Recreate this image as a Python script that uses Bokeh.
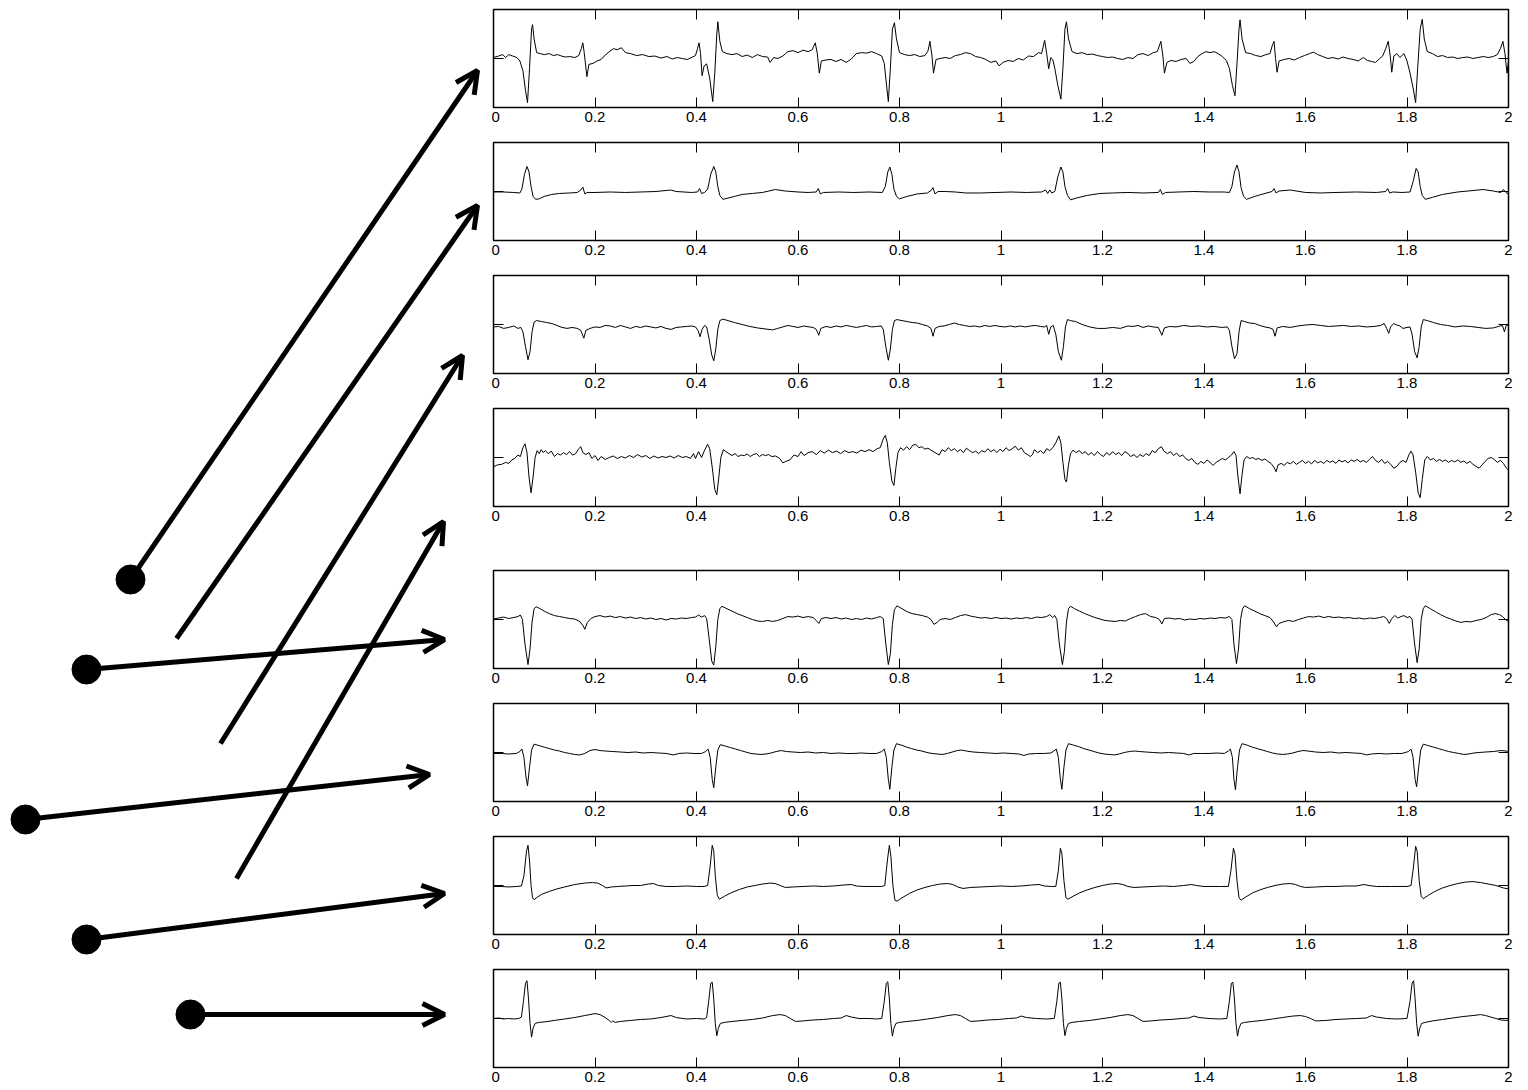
from bokeh.plotting import figure
from bokeh.layouts import row, column
from bokeh.models import (Range1d, LinearAxis, FixedTicker, Arrow, OpenHead, ColumnDataSource,
                          CustomLabelingPolicy)
from bokeh.embed import file_html
from bokeh.resources import INLINE

# ---------------- data ----------------
x_ticks = [0, 0.2, 0.4, 0.6, 0.8, 1, 1.2, 1.4, 1.6, 1.8, 2]
x_tick_labels = ["0", "0.2", "0.4", "0.6", "0.8", "1", "1.2", "1.4", "1.6", "1.8", "2"]

# left drawing: dots and arrows (page pixel coordinates)
dot_x = [130, 86, 25, 86, 190]
dot_y = [579, 669, 819, 939, 1014]
arrow_x0 = [130, 176, 220, 236, 86, 25, 86, 190]
arrow_y0 = [579, 638, 743, 878, 669, 819, 939, 1014]
arrow_x1 = [477, 477, 462, 443, 444, 429, 444, 444]
arrow_y1 = [70, 205, 355, 521, 639, 774, 893, 1014]

ecg1 = [(0.000, 0.02), (0.010, 0.05), (0.018, 0.08), (0.024, 0.02), (0.030, 0.08), (0.038, 0.05), (0.046, 0.02),
        (0.052, -0.05), (0.058, -0.25), (0.063, -0.65), (0.067, -0.90), (0.071, -0.20), (0.075, 0.60), (0.077, 0.69),
        (0.080, 0.40), (0.085, 0.12), (0.092, 0.10), (0.100, 0.08), (0.110, 0.10), (0.118, 0.06), (0.126, 0.08),
        (0.134, 0.05), (0.142, 0.03), (0.150, 0.04), (0.160, 0.02), (0.168, 0.06), (0.173, 0.20), (0.176, 0.32),
        (0.179, 0.10), (0.184, -0.37), (0.188, -0.12), (0.196, -0.10), (0.204, -0.05), (0.212, -0.02), (0.218, 0.05),
        (0.226, 0.12), (0.236, 0.20), (0.244, 0.18), (0.252, 0.22), (0.260, 0.12), (0.270, 0.10), (0.282, 0.06),
        (0.294, 0.08), (0.306, 0.04), (0.318, 0.05), (0.330, 0.01), (0.342, 0.04), (0.352, -0.01), (0.362, 0.02),
        (0.372, 0.00), (0.382, -0.02), (0.392, 0.03), (0.398, 0.06), (0.402, 0.20), (0.405, 0.32), (0.408, 0.10),
        (0.411, -0.35), (0.415, -0.15), (0.420, -0.11), (0.426, -0.40), (0.432, -0.88), (0.436, -0.30), (0.440, 0.50),
        (0.442, 0.75), (0.446, 0.35), (0.451, 0.14), (0.460, 0.10), (0.470, 0.08), (0.480, 0.10), (0.490, 0.04),
        (0.500, 0.07), (0.510, 0.02), (0.520, 0.08), (0.530, 0.04), (0.540, 0.03), (0.545, -0.08), (0.552, 0.02),
        (0.560, 0.00), (0.570, 0.05), (0.580, 0.14), (0.590, 0.16), (0.600, 0.12), (0.610, 0.17), (0.620, 0.14),
        (0.628, 0.18), (0.634, 0.32), (0.638, 0.10), (0.642, -0.30), (0.646, -0.05), (0.655, -0.03), (0.665, -0.02),
        (0.675, -0.06), (0.685, -0.02), (0.695, -0.08), (0.705, -0.01), (0.715, 0.10), (0.725, 0.12), (0.735, 0.11),
        (0.745, 0.14), (0.755, 0.10), (0.765, 0.05), (0.770, -0.10), (0.774, -0.50), (0.778, -0.88), (0.782, -0.20),
        (0.786, 0.60), (0.790, 0.73), (0.794, 0.40), (0.800, 0.12), (0.810, 0.08), (0.820, 0.06), (0.830, 0.08),
        (0.840, 0.04), (0.850, 0.06), (0.856, 0.15), (0.860, 0.35), (0.864, 0.05), (0.867, -0.30), (0.872, -0.02),
        (0.880, 0.00), (0.890, 0.02), (0.900, 0.00), (0.910, 0.06), (0.920, 0.08), (0.930, 0.12), (0.940, 0.10),
        (0.950, 0.04), (0.960, 0.02), (0.970, -0.02), (0.980, -0.08), (0.990, -0.05), (0.996, -0.15), (1.004, -0.08),
        (1.014, -0.04), (1.024, -0.06), (1.034, 0.00), (1.044, -0.03), (1.054, 0.05), (1.064, 0.04), (1.074, 0.12),
        (1.080, 0.10), (1.086, 0.37), (1.090, 0.10), (1.094, -0.21), (1.098, 0.02), (1.102, -0.02), (1.106, -0.20),
        (1.112, -0.55), (1.118, -0.83), (1.122, -0.20), (1.126, 0.60), (1.129, 0.75), (1.133, 0.40), (1.140, 0.14),
        (1.150, 0.10), (1.160, 0.12), (1.170, 0.08), (1.180, 0.09), (1.190, 0.06), (1.200, 0.04), (1.210, 0.02),
        (1.220, 0.03), (1.230, 0.00), (1.240, -0.02), (1.250, 0.02), (1.260, 0.00), (1.270, 0.08), (1.280, 0.10),
        (1.290, 0.06), (1.300, 0.12), (1.308, 0.14), (1.315, 0.35), (1.319, 0.05), (1.322, -0.30), (1.327, -0.08),
        (1.335, -0.04), (1.345, -0.06), (1.355, -0.02), (1.365, 0.00), (1.372, -0.10), (1.380, -0.06), (1.388, 0.04),
        (1.396, 0.10), (1.404, 0.14), (1.412, 0.12), (1.420, 0.14), (1.428, 0.10), (1.436, 0.04), (1.444, -0.04),
        (1.450, -0.20), (1.456, -0.55), (1.461, -0.76), (1.465, -0.10), (1.469, 0.60), (1.471, 0.79), (1.475, 0.40),
        (1.482, 0.12), (1.492, 0.10), (1.502, 0.06), (1.512, 0.04), (1.522, 0.08), (1.530, 0.10), (1.535, 0.28),
        (1.538, 0.35), (1.541, 0.00), (1.544, -0.28), (1.548, -0.05), (1.558, -0.02), (1.568, 0.00), (1.578, -0.03),
        (1.588, 0.02), (1.598, 0.06), (1.608, 0.10), (1.616, 0.13), (1.624, 0.08), (1.634, 0.04), (1.644, 0.00),
        (1.654, 0.02), (1.664, -0.01), (1.674, 0.03), (1.684, 0.00), (1.694, -0.02), (1.704, -0.05), (1.714, 0.02),
        (1.722, -0.04), (1.730, -0.06), (1.738, -0.08), (1.746, 0.00), (1.752, 0.05), (1.758, 0.20), (1.763, 0.35),
        (1.767, 0.05), (1.770, -0.28), (1.774, 0.05), (1.780, 0.10), (1.786, 0.02), (1.794, 0.10), (1.800, -0.05),
        (1.806, -0.30), (1.812, -0.60), (1.817, -0.90), (1.821, -0.20), (1.826, 0.60), (1.830, 0.80), (1.834, 0.40),
        (1.840, 0.14), (1.850, 0.10), (1.860, 0.04), (1.870, 0.06), (1.880, 0.02), (1.890, 0.03), (1.900, 0.00),
        (1.910, 0.02), (1.920, 0.03), (1.930, 0.00), (1.940, 0.02), (1.950, 0.04), (1.960, 0.02), (1.970, 0.04),
        (1.978, 0.08), (1.984, 0.20), (1.989, 0.35), (1.993, 0.10), (1.997, -0.30), (2.000, -0.05)]

ecg2 = [(0.000, -0.01), (0.020, -0.01), (0.040, -0.02), (0.052, -0.03), (0.056, 0.05), (0.061, 0.35), (0.066, 0.51),
        (0.070, 0.40), (0.074, 0.10), (0.078, -0.10), (0.083, -0.16), (0.090, -0.15), (0.100, -0.10), (0.115, -0.06),
        (0.130, -0.04), (0.150, -0.03), (0.165, -0.02), (0.172, 0.03), (0.176, 0.09), (0.180, -0.05), (0.184, -0.02),
        (0.200, -0.02), (0.230, -0.01), (0.260, -0.02), (0.290, -0.01), (0.320, 0.00), (0.349, 0.03), (0.360, 0.00),
        (0.390, -0.02), (0.402, -0.01), (0.406, 0.06), (0.410, -0.04), (0.416, -0.02), (0.422, 0.05), (0.428, 0.35),
        (0.434, 0.51), (0.438, 0.40), (0.442, 0.10), (0.446, -0.08), (0.452, -0.16), (0.460, -0.14), (0.475, -0.10),
        (0.490, -0.06), (0.510, -0.04), (0.530, -0.02), (0.555, 0.04), (0.575, 0.01), (0.600, -0.01), (0.620, -0.02),
        (0.636, -0.01), (0.640, 0.06), (0.644, -0.05), (0.650, -0.02), (0.680, -0.01), (0.710, -0.02), (0.740, -0.01),
        (0.766, -0.02), (0.772, 0.10), (0.777, 0.40), (0.781, 0.50), (0.785, 0.35), (0.789, 0.05), (0.794, -0.10),
        (0.800, -0.15), (0.815, -0.10), (0.835, -0.05), (0.855, -0.03), (0.862, 0.02), (0.866, 0.08), (0.870, -0.05),
        (0.876, 0.00), (0.890, 0.00), (0.910, -0.01), (0.930, -0.03), (0.960, -0.03), (0.990, -0.02), (1.020, -0.01),
        (1.050, -0.02), (1.080, -0.01), (1.088, 0.03), (1.092, -0.04), (1.096, 0.03), (1.100, -0.03), (1.106, 0.00),
        (1.112, 0.30), (1.118, 0.50), (1.122, 0.40), (1.126, 0.10), (1.131, -0.08), (1.137, -0.17), (1.150, -0.13),
        (1.170, -0.08), (1.195, -0.04), (1.220, -0.03), (1.250, -0.02), (1.280, -0.03), (1.310, -0.02), (1.314, 0.04),
        (1.318, -0.06), (1.324, -0.02), (1.350, -0.01), (1.380, 0.00), (1.410, -0.01), (1.440, -0.01), (1.450, -0.02),
        (1.455, 0.10), (1.460, 0.40), (1.465, 0.54), (1.469, 0.40), (1.473, 0.08), (1.478, -0.10), (1.484, -0.16),
        (1.500, -0.10), (1.520, -0.04), (1.534, 0.00), (1.538, 0.06), (1.542, -0.03), (1.548, 0.01), (1.570, 0.03),
        (1.600, -0.02), (1.630, -0.03), (1.660, -0.02), (1.700, -0.01), (1.740, -0.02), (1.758, 0.00), (1.762, 0.06),
        (1.766, -0.03), (1.772, -0.01), (1.790, -0.02), (1.806, -0.01), (1.812, 0.20), (1.818, 0.47), (1.822, 0.40),
        (1.826, 0.10), (1.830, -0.08), (1.836, -0.16), (1.850, -0.12), (1.870, -0.06), (1.900, -0.01), (1.930, 0.02),
        (1.950, 0.04), (1.970, 0.01), (1.985, -0.02), (1.990, 0.04), (1.995, -0.02), (2.000, -0.05)]

ecg3 = [(0.000, -0.05), (0.010, -0.04), (0.020, -0.08), (0.030, -0.06), (0.040, -0.03), (0.048, -0.08), (0.054, -0.06),
        (0.058, -0.15), (0.063, -0.45), (0.068, -0.72), (0.072, -0.55), (0.076, -0.15), (0.080, 0.05), (0.085, 0.08),
        (0.095, 0.06), (0.105, 0.04), (0.115, 0.02), (0.125, -0.02), (0.135, -0.06), (0.145, -0.08), (0.155, -0.06),
        (0.165, -0.08), (0.172, -0.12), (0.178, -0.28), (0.182, -0.12), (0.190, -0.08), (0.200, -0.05), (0.210, -0.06),
        (0.220, -0.02), (0.230, -0.03), (0.240, -0.06), (0.250, -0.02), (0.260, -0.05), (0.270, -0.08), (0.280, -0.04),
        (0.290, -0.06), (0.300, -0.03), (0.310, -0.05), (0.320, -0.07), (0.330, -0.04), (0.340, -0.08), (0.350, -0.10),
        (0.360, -0.06), (0.370, -0.05), (0.380, -0.04), (0.390, -0.03), (0.398, -0.05), (0.403, -0.12), (0.407, -0.25),
        (0.411, -0.10), (0.416, -0.02), (0.420, -0.05), (0.425, -0.30), (0.430, -0.62), (0.434, -0.74), (0.438, -0.50),
        (0.442, -0.10), (0.446, 0.08), (0.452, 0.11), (0.462, 0.08), (0.475, 0.04), (0.490, 0.00), (0.505, -0.04),
        (0.520, -0.07), (0.535, -0.09), (0.550, -0.11), (0.560, -0.08), (0.570, -0.05), (0.580, -0.02), (0.590, -0.04),
        (0.600, -0.06), (0.612, -0.03), (0.622, -0.05), (0.630, -0.06), (0.636, -0.10), (0.641, -0.22), (0.645, -0.08),
        (0.655, -0.04), (0.665, -0.06), (0.675, -0.03), (0.685, -0.05), (0.695, -0.02), (0.705, -0.04), (0.715, -0.06),
        (0.725, -0.04), (0.735, -0.02), (0.745, -0.05), (0.755, -0.04), (0.764, -0.03), (0.768, -0.10), (0.773, -0.45),
        (0.778, -0.73), (0.782, -0.50), (0.786, -0.10), (0.790, 0.08), (0.795, 0.10), (0.805, 0.08), (0.815, 0.06),
        (0.825, 0.04), (0.835, 0.03), (0.845, 0.00), (0.855, -0.03), (0.862, -0.08), (0.866, -0.24), (0.870, -0.08),
        (0.878, -0.04), (0.888, -0.03), (0.898, 0.00), (0.908, 0.03), (0.918, 0.00), (0.928, -0.02), (0.938, -0.04),
        (0.948, -0.03), (0.958, -0.05), (0.968, -0.02), (0.978, -0.04), (0.988, -0.02), (0.998, -0.04), (1.008, -0.05),
        (1.018, -0.03), (1.028, -0.05), (1.038, -0.03), (1.048, -0.05), (1.058, -0.03), (1.068, -0.02), (1.078, -0.04),
        (1.086, -0.05), (1.090, -0.02), (1.094, -0.20), (1.098, -0.05), (1.103, -0.02), (1.108, -0.20), (1.113, -0.55),
        (1.119, -0.73), (1.123, -0.45), (1.127, -0.05), (1.131, 0.10), (1.137, 0.08), (1.147, 0.06), (1.160, 0.00),
        (1.175, -0.05), (1.190, -0.08), (1.205, -0.08), (1.220, -0.06), (1.235, -0.08), (1.250, -0.03), (1.260, -0.04),
        (1.270, -0.02), (1.280, -0.06), (1.290, -0.03), (1.300, -0.05), (1.310, -0.06), (1.317, -0.22), (1.322, -0.07),
        (1.332, -0.04), (1.345, -0.05), (1.360, -0.02), (1.375, -0.04), (1.390, -0.03), (1.405, -0.05), (1.420, -0.04),
        (1.435, -0.06), (1.446, -0.05), (1.450, -0.12), (1.455, -0.45), (1.460, -0.70), (1.465, -0.60), (1.469, -0.15),
        (1.473, 0.08), (1.480, 0.06), (1.490, 0.03), (1.500, 0.02), (1.510, -0.02), (1.520, -0.05), (1.530, -0.07),
        (1.536, -0.10), (1.540, -0.24), (1.544, -0.07), (1.555, -0.04), (1.570, -0.06), (1.585, -0.03), (1.600, -0.01),
        (1.615, 0.00), (1.630, -0.02), (1.645, -0.04), (1.660, -0.03), (1.675, -0.02), (1.690, -0.04), (1.705, -0.03),
        (1.720, -0.05), (1.735, -0.04), (1.748, -0.02), (1.755, 0.02), (1.760, -0.08), (1.764, -0.18), (1.768, -0.04),
        (1.774, 0.02), (1.780, -0.01), (1.786, -0.03), (1.792, -0.08), (1.800, -0.06), (1.806, -0.05), (1.810, -0.20),
        (1.815, -0.55), (1.820, -0.68), (1.824, -0.45), (1.828, -0.05), (1.832, 0.10), (1.840, 0.08), (1.852, 0.04),
        (1.866, 0.00), (1.880, -0.02), (1.895, -0.05), (1.910, -0.03), (1.925, -0.04), (1.940, -0.06), (1.955, -0.08),
        (1.970, -0.07), (1.980, -0.04), (1.988, -0.02), (1.992, -0.15), (1.996, 0.00), (2.000, -0.03)]

ecg4 = [(0.000, -0.19), (0.008, -0.15), (0.016, -0.14), (0.024, -0.10), (0.030, -0.12), (0.036, -0.05), (0.042, -0.02),
        (0.048, 0.05), (0.053, 0.02), (0.058, 0.20), (0.062, 0.28), (0.066, 0.10), (0.070, -0.40), (0.074, -0.72),
        (0.078, -0.40), (0.082, 0.00), (0.086, 0.14), (0.090, 0.08), (0.094, 0.16), (0.098, 0.10), (0.102, 0.14),
        (0.108, 0.08), (0.114, 0.13), (0.120, 0.02), (0.126, 0.08), (0.132, 0.05), (0.138, 0.10), (0.144, 0.06),
        (0.150, 0.12), (0.156, 0.05), (0.162, 0.08), (0.168, 0.18), (0.172, 0.22), (0.176, 0.10), (0.182, 0.06),
        (0.188, 0.10), (0.194, -0.02), (0.200, 0.04), (0.206, -0.06), (0.212, 0.02), (0.220, -0.04), (0.228, 0.00),
        (0.236, 0.03), (0.244, -0.02), (0.252, 0.02), (0.260, -0.01), (0.268, 0.04), (0.276, 0.00), (0.284, 0.06),
        (0.292, 0.01), (0.300, 0.04), (0.308, -0.02), (0.316, 0.03), (0.324, -0.01), (0.332, 0.02), (0.340, 0.00),
        (0.348, 0.03), (0.356, -0.01), (0.364, 0.04), (0.372, 0.00), (0.380, 0.02), (0.388, -0.02), (0.394, 0.08),
        (0.398, -0.02), (0.404, 0.12), (0.410, 0.00), (0.416, 0.15), (0.422, 0.27), (0.426, 0.18), (0.431, -0.20),
        (0.436, -0.65), (0.440, -0.76), (0.444, -0.40), (0.448, 0.00), (0.453, 0.16), (0.458, 0.12), (0.464, 0.08),
        (0.470, 0.04), (0.476, 0.08), (0.482, 0.02), (0.488, 0.05), (0.494, 0.04), (0.500, 0.07), (0.506, 0.02),
        (0.512, 0.06), (0.518, 0.08), (0.524, 0.02), (0.530, 0.06), (0.536, 0.04), (0.542, 0.06), (0.548, 0.02),
        (0.556, 0.03), (0.564, -0.02), (0.570, -0.11), (0.576, -0.08), (0.584, -0.05), (0.592, 0.05), (0.600, 0.02),
        (0.606, 0.12), (0.612, 0.04), (0.620, 0.10), (0.628, 0.12), (0.636, 0.06), (0.644, 0.14), (0.652, 0.09),
        (0.660, 0.15), (0.668, 0.10), (0.676, 0.13), (0.684, 0.08), (0.692, 0.14), (0.700, 0.10), (0.708, 0.12),
        (0.716, 0.09), (0.724, 0.15), (0.732, 0.12), (0.740, 0.16), (0.748, 0.12), (0.756, 0.18), (0.762, 0.20),
        (0.768, 0.38), (0.772, 0.45), (0.776, 0.30), (0.780, -0.10), (0.785, -0.48), (0.789, -0.57), (0.793, -0.20),
        (0.797, 0.10), (0.802, 0.20), (0.808, 0.15), (0.814, 0.22), (0.820, 0.16), (0.826, 0.25), (0.832, 0.27),
        (0.838, 0.20), (0.844, 0.22), (0.850, 0.17), (0.856, 0.19), (0.862, 0.15), (0.870, 0.10), (0.878, 0.05),
        (0.884, 0.16), (0.890, 0.12), (0.896, 0.20), (0.902, 0.14), (0.908, 0.18), (0.914, 0.12), (0.920, 0.16),
        (0.926, 0.10), (0.932, 0.19), (0.938, 0.14), (0.944, 0.10), (0.950, 0.13), (0.956, 0.08), (0.962, 0.14),
        (0.968, 0.11), (0.974, 0.18), (0.980, 0.12), (0.986, 0.16), (0.992, 0.10), (0.998, 0.17), (1.004, 0.12),
        (1.010, 0.20), (1.016, 0.14), (1.022, 0.18), (1.028, 0.23), (1.034, 0.15), (1.040, 0.20), (1.046, 0.10),
        (1.052, 0.06), (1.058, 0.02), (1.062, 0.06), (1.066, 0.16), (1.072, 0.10), (1.078, 0.14), (1.084, 0.08),
        (1.090, 0.18), (1.096, 0.14), (1.102, 0.20), (1.108, 0.30), (1.114, 0.44), (1.118, 0.30), (1.122, -0.10),
        (1.126, -0.45), (1.129, -0.50), (1.133, -0.15), (1.137, 0.08), (1.142, 0.15), (1.148, 0.10), (1.154, 0.14),
        (1.160, 0.08), (1.166, 0.12), (1.172, 0.05), (1.178, 0.10), (1.184, 0.04), (1.190, 0.12), (1.196, 0.06),
        (1.202, 0.02), (1.208, 0.10), (1.214, 0.05), (1.220, 0.12), (1.226, 0.06), (1.232, 0.10), (1.238, 0.04),
        (1.244, 0.12), (1.250, 0.08), (1.256, 0.02), (1.262, 0.06), (1.268, 0.00), (1.274, 0.06), (1.280, 0.02),
        (1.286, 0.08), (1.292, 0.04), (1.298, 0.14), (1.304, 0.10), (1.310, 0.18), (1.316, 0.22), (1.322, 0.12),
        (1.328, 0.08), (1.334, 0.12), (1.340, 0.04), (1.346, 0.09), (1.352, 0.02), (1.358, 0.05), (1.364, -0.02),
        (1.370, -0.06), (1.376, -0.02), (1.382, -0.10), (1.388, -0.14), (1.394, -0.08), (1.400, -0.12), (1.406, -0.05),
        (1.412, -0.10), (1.418, -0.16), (1.424, -0.10), (1.430, -0.06), (1.436, -0.02), (1.442, -0.05), (1.448, 0.00),
        (1.454, 0.05), (1.459, 0.12), (1.463, 0.05), (1.467, -0.40), (1.471, -0.74), (1.475, -0.35), (1.479, -0.05),
        (1.484, 0.02), (1.490, -0.02), (1.496, 0.00), (1.502, -0.04), (1.508, -0.02), (1.514, -0.06), (1.520, -0.03),
        (1.526, -0.08), (1.532, -0.12), (1.538, -0.20), (1.542, -0.29), (1.546, -0.15), (1.552, -0.12), (1.558, -0.16),
        (1.564, -0.10), (1.570, -0.13), (1.576, -0.08), (1.582, -0.14), (1.588, -0.10), (1.594, -0.06), (1.600, -0.12),
        (1.606, -0.08), (1.612, -0.13), (1.618, -0.06), (1.624, -0.11), (1.630, -0.08), (1.636, -0.12), (1.642, -0.06),
        (1.648, -0.10), (1.654, -0.07), (1.660, -0.12), (1.666, -0.05), (1.672, -0.09), (1.678, -0.06), (1.684, -0.11),
        (1.690, -0.05), (1.696, -0.08), (1.702, -0.04), (1.708, -0.09), (1.714, -0.06), (1.720, -0.10), (1.726, -0.04),
        (1.732, 0.02), (1.738, -0.06), (1.744, -0.10), (1.750, -0.04), (1.756, -0.12), (1.762, -0.08), (1.768, -0.14),
        (1.774, -0.22), (1.780, -0.18), (1.786, -0.10), (1.792, -0.06), (1.798, -0.10), (1.804, 0.06), (1.808, 0.13),
        (1.812, 0.05), (1.817, -0.30), (1.822, -0.72), (1.826, -0.82), (1.830, -0.45), (1.835, -0.05), (1.840, 0.02),
        (1.846, -0.05), (1.852, -0.02), (1.858, -0.08), (1.864, -0.04), (1.870, -0.08), (1.876, -0.05), (1.882, -0.10),
        (1.888, -0.06), (1.894, -0.09), (1.900, -0.05), (1.906, -0.10), (1.912, -0.07), (1.918, -0.12), (1.924, -0.08),
        (1.930, -0.14), (1.936, -0.18), (1.942, -0.22), (1.948, -0.15), (1.954, -0.08), (1.960, -0.02), (1.966, 0.00),
        (1.972, -0.04), (1.978, -0.10), (1.984, -0.06), (1.990, -0.12), (1.996, -0.22), (2.000, -0.26)]

ecg5 = [(0.000, 0.01), (0.010, 0.03), (0.020, 0.05), (0.030, 0.02), (0.040, 0.04), (0.048, 0.06), (0.053, 0.09),
        (0.057, 0.00), (0.062, -0.50), (0.068, -0.92), (0.072, -0.60), (0.076, -0.05), (0.080, 0.22), (0.084, 0.26),
        (0.092, 0.22), (0.100, 0.17), (0.110, 0.12), (0.120, 0.08), (0.130, 0.06), (0.140, 0.04), (0.150, 0.02),
        (0.160, 0.01), (0.170, -0.04), (0.176, -0.12), (0.180, -0.20), (0.185, -0.06), (0.192, 0.02), (0.200, 0.06),
        (0.210, 0.08), (0.220, 0.05), (0.230, 0.07), (0.240, 0.04), (0.250, 0.06), (0.260, 0.03), (0.270, 0.05),
        (0.280, 0.02), (0.290, 0.04), (0.300, 0.01), (0.310, 0.03), (0.320, 0.00), (0.330, 0.02), (0.340, -0.01),
        (0.350, 0.02), (0.360, 0.01), (0.370, 0.03), (0.380, 0.02), (0.390, 0.04), (0.398, 0.05), (0.404, 0.09),
        (0.410, 0.05), (0.416, 0.08), (0.420, 0.02), (0.425, -0.40), (0.430, -0.85), (0.434, -0.93), (0.438, -0.55),
        (0.442, 0.00), (0.446, 0.22), (0.450, 0.27), (0.460, 0.22), (0.470, 0.17), (0.480, 0.12), (0.490, 0.08),
        (0.500, 0.04), (0.510, 0.00), (0.520, -0.03), (0.530, -0.04), (0.540, -0.02), (0.550, -0.04), (0.560, -0.02),
        (0.570, 0.02), (0.580, 0.06), (0.590, 0.05), (0.600, 0.07), (0.610, 0.04), (0.620, 0.06), (0.630, 0.04),
        (0.636, -0.02), (0.641, -0.08), (0.646, 0.02), (0.655, 0.04), (0.665, 0.02), (0.675, 0.04), (0.685, 0.01),
        (0.695, 0.03), (0.705, 0.00), (0.715, 0.02), (0.725, 0.00), (0.735, 0.03), (0.745, 0.01), (0.755, 0.04),
        (0.762, 0.06), (0.768, 0.02), (0.773, -0.50), (0.778, -0.92), (0.782, -0.70), (0.786, -0.10), (0.790, 0.20),
        (0.795, 0.28), (0.805, 0.22), (0.815, 0.16), (0.825, 0.12), (0.835, 0.10), (0.845, 0.08), (0.855, 0.05),
        (0.862, 0.00), (0.868, -0.10), (0.874, -0.06), (0.880, 0.00), (0.890, 0.02), (0.900, 0.00), (0.910, 0.04),
        (0.920, 0.08), (0.930, 0.10), (0.940, 0.07), (0.950, 0.05), (0.960, 0.03), (0.970, 0.04), (0.980, 0.02),
        (0.990, 0.04), (1.000, 0.02), (1.010, 0.03), (1.020, 0.01), (1.030, 0.03), (1.040, 0.02), (1.050, 0.04),
        (1.060, 0.02), (1.070, 0.05), (1.080, 0.04), (1.090, 0.06), (1.096, 0.10), (1.102, 0.04), (1.106, 0.08),
        (1.110, 0.00), (1.115, -0.50), (1.121, -0.92), (1.125, -0.65), (1.129, -0.05), (1.133, 0.22), (1.137, 0.27),
        (1.145, 0.22), (1.155, 0.17), (1.165, 0.12), (1.175, 0.08), (1.185, 0.04), (1.195, 0.01), (1.205, -0.02),
        (1.215, -0.03), (1.225, -0.04), (1.235, -0.02), (1.245, -0.03), (1.255, 0.02), (1.265, 0.06), (1.275, 0.10),
        (1.285, 0.12), (1.295, 0.06), (1.305, 0.04), (1.312, 0.00), (1.317, -0.09), (1.322, 0.02), (1.332, 0.03),
        (1.342, 0.01), (1.352, 0.02), (1.362, -0.01), (1.372, 0.01), (1.382, 0.00), (1.392, 0.02), (1.402, 0.01),
        (1.412, 0.03), (1.422, 0.02), (1.432, 0.04), (1.442, 0.03), (1.450, 0.06), (1.455, 0.00), (1.459, -0.50),
        (1.464, -0.90), (1.468, -0.60), (1.472, 0.00), (1.476, 0.22), (1.480, 0.28), (1.490, 0.22), (1.500, 0.17),
        (1.510, 0.12), (1.520, 0.08), (1.530, 0.04), (1.537, -0.05), (1.543, -0.15), (1.548, -0.08), (1.556, -0.05),
        (1.566, -0.02), (1.576, -0.04), (1.586, 0.00), (1.596, 0.03), (1.606, 0.06), (1.616, 0.05), (1.626, 0.07),
        (1.636, 0.04), (1.646, 0.06), (1.656, 0.04), (1.666, 0.05), (1.676, 0.03), (1.686, 0.04), (1.696, 0.02),
        (1.706, 0.03), (1.716, 0.01), (1.726, 0.03), (1.736, 0.02), (1.746, 0.04), (1.754, 0.06), (1.760, 0.02),
        (1.765, -0.08), (1.770, 0.02), (1.776, 0.08), (1.782, 0.03), (1.788, 0.06), (1.794, 0.08), (1.800, 0.04),
        (1.806, 0.06), (1.810, 0.00), (1.815, -0.50), (1.820, -0.88), (1.824, -0.60), (1.828, 0.00), (1.832, 0.22),
        (1.836, 0.28), (1.846, 0.22), (1.856, 0.16), (1.866, 0.10), (1.876, 0.05), (1.886, 0.01), (1.896, -0.03),
        (1.906, -0.06), (1.916, -0.04), (1.926, -0.05), (1.936, -0.02), (1.946, 0.00), (1.956, 0.04), (1.966, 0.10),
        (1.974, 0.12), (1.982, 0.10), (1.988, 0.06), (1.994, 0.00), (2.000, -0.04)]

ecg6 = [(0.000, -0.02), (0.015, -0.02), (0.030, -0.03), (0.045, -0.02), (0.052, 0.02), (0.056, 0.07), (0.060, -0.10),
        (0.064, -0.50), (0.067, -0.68), (0.071, -0.30), (0.075, 0.05), (0.080, 0.17), (0.090, 0.14), (0.100, 0.11),
        (0.110, 0.08), (0.120, 0.05), (0.130, 0.03), (0.140, 0.00), (0.150, -0.02), (0.160, -0.04), (0.170, -0.05),
        (0.180, -0.02), (0.190, 0.04), (0.200, 0.06), (0.210, 0.04), (0.220, 0.03), (0.235, 0.02), (0.250, 0.01),
        (0.265, 0.00), (0.280, 0.01), (0.295, -0.01), (0.310, 0.00), (0.325, -0.01), (0.340, -0.02), (0.355, -0.05),
        (0.365, -0.02), (0.380, -0.01), (0.395, -0.02), (0.410, -0.02), (0.418, 0.02), (0.423, 0.07), (0.427, -0.10),
        (0.431, -0.55), (0.434, -0.72), (0.438, -0.30), (0.442, 0.05), (0.447, 0.16), (0.457, 0.13), (0.467, 0.10),
        (0.477, 0.07), (0.487, 0.04), (0.497, 0.01), (0.507, -0.02), (0.517, -0.03), (0.527, -0.04), (0.537, -0.03),
        (0.547, -0.01), (0.557, 0.02), (0.567, 0.04), (0.577, 0.02), (0.590, 0.01), (0.605, 0.00), (0.620, 0.01),
        (0.635, -0.01), (0.650, 0.00), (0.665, -0.02), (0.680, -0.01), (0.695, -0.02), (0.710, -0.02), (0.725, -0.01),
        (0.740, -0.02), (0.755, -0.02), (0.765, 0.02), (0.770, 0.07), (0.774, -0.10), (0.778, -0.55), (0.781, -0.75),
        (0.785, -0.30), (0.789, 0.05), (0.794, 0.18), (0.804, 0.15), (0.814, 0.11), (0.824, 0.08), (0.834, 0.05),
        (0.844, 0.03), (0.854, 0.00), (0.864, -0.02), (0.874, -0.03), (0.884, -0.04), (0.894, -0.02), (0.904, 0.01),
        (0.914, 0.04), (0.922, 0.05), (0.932, 0.03), (0.945, 0.01), (0.960, 0.00), (0.975, -0.01), (0.990, -0.02),
        (1.005, -0.01), (1.020, -0.02), (1.035, -0.03), (1.045, -0.06), (1.055, -0.03), (1.070, -0.02), (1.085, -0.02),
        (1.098, -0.01), (1.104, 0.03), (1.109, 0.07), (1.113, -0.10), (1.117, -0.55), (1.120, -0.75), (1.124, -0.30),
        (1.128, 0.05), (1.133, 0.18), (1.143, 0.15), (1.153, 0.12), (1.163, 0.08), (1.173, 0.05), (1.183, 0.02),
        (1.193, -0.01), (1.203, -0.03), (1.213, -0.04), (1.223, -0.05), (1.233, -0.03), (1.243, 0.00), (1.253, 0.02),
        (1.263, 0.03), (1.273, 0.02), (1.285, 0.01), (1.300, 0.00), (1.315, -0.01), (1.330, 0.00), (1.345, -0.01),
        (1.360, -0.02), (1.370, -0.05), (1.380, -0.02), (1.395, -0.02), (1.410, -0.02), (1.425, -0.01), (1.440, -0.02),
        (1.448, 0.03), (1.452, 0.07), (1.456, -0.10), (1.459, -0.55), (1.462, -0.76), (1.466, -0.30), (1.470, 0.05),
        (1.475, 0.18), (1.485, 0.15), (1.495, 0.11), (1.505, 0.08), (1.515, 0.05), (1.525, 0.02), (1.535, -0.01),
        (1.545, -0.03), (1.555, -0.04), (1.565, -0.03), (1.575, -0.01), (1.585, 0.02), (1.595, 0.04), (1.605, 0.03),
        (1.620, 0.01), (1.635, 0.00), (1.650, 0.01), (1.665, -0.01), (1.680, 0.00), (1.695, -0.01), (1.710, -0.02),
        (1.720, -0.05), (1.730, -0.03), (1.745, -0.02), (1.760, -0.03), (1.775, -0.02), (1.790, -0.02), (1.803, 0.02),
        (1.808, 0.07), (1.812, -0.10), (1.816, -0.55), (1.819, -0.70), (1.823, -0.30), (1.827, 0.05), (1.832, 0.17),
        (1.842, 0.14), (1.852, 0.11), (1.862, 0.08), (1.872, 0.05), (1.882, 0.02), (1.892, 0.00), (1.902, -0.02),
        (1.912, -0.04), (1.922, -0.03), (1.932, -0.01), (1.942, 0.00), (1.955, 0.01), (1.970, 0.02), (1.985, 0.04),
        (1.995, 0.03), (2.000, 0.02)]

ecg7 = [(0.000, -0.02), (0.015, -0.02), (0.030, -0.03), (0.045, -0.02), (0.055, -0.01), (0.060, 0.20), (0.065, 0.70),
        (0.068, 0.82), (0.071, 0.50), (0.074, 0.00), (0.077, -0.25), (0.080, -0.29), (0.086, -0.24), (0.095, -0.18),
        (0.110, -0.12), (0.125, -0.07), (0.140, -0.03), (0.160, 0.02), (0.180, 0.05), (0.195, 0.06), (0.205, 0.05),
        (0.215, 0.00), (0.222, -0.05), (0.232, -0.03), (0.245, -0.02), (0.260, -0.01), (0.275, 0.00), (0.290, 0.00),
        (0.305, 0.03), (0.315, 0.04), (0.325, 0.00), (0.340, -0.02), (0.360, -0.02), (0.380, -0.01), (0.400, -0.02),
        (0.415, -0.02), (0.422, 0.00), (0.427, 0.40), (0.431, 0.82), (0.434, 0.70), (0.437, 0.20), (0.441, -0.20),
        (0.445, -0.28), (0.455, -0.22), (0.470, -0.14), (0.485, -0.08), (0.500, -0.03), (0.515, 0.00), (0.530, 0.03),
        (0.545, 0.05), (0.555, 0.04), (0.565, 0.00), (0.575, -0.04), (0.590, -0.03), (0.610, -0.02), (0.630, -0.01),
        (0.650, -0.02), (0.670, -0.01), (0.690, 0.01), (0.705, 0.02), (0.715, -0.01), (0.730, -0.02), (0.750, -0.02),
        (0.765, -0.02), (0.771, 0.00), (0.776, 0.50), (0.780, 0.82), (0.783, 0.60), (0.787, 0.00), (0.791, -0.30),
        (0.795, -0.32), (0.805, -0.25), (0.820, -0.16), (0.835, -0.09), (0.850, -0.04), (0.865, 0.00), (0.880, 0.03),
        (0.895, 0.04), (0.905, 0.02), (0.915, -0.03), (0.925, -0.06), (0.940, -0.04), (0.960, -0.03), (0.980, -0.02),
        (1.000, -0.01), (1.020, -0.02), (1.040, -0.01), (1.060, 0.01), (1.075, 0.02), (1.085, -0.01), (1.100, -0.02),
        (1.108, -0.02), (1.113, 0.30), (1.117, 0.76), (1.120, 0.65), (1.124, 0.10), (1.128, -0.25), (1.132, -0.28),
        (1.142, -0.22), (1.155, -0.15), (1.170, -0.09), (1.185, -0.04), (1.200, 0.00), (1.215, 0.03), (1.230, 0.04),
        (1.240, 0.02), (1.250, -0.02), (1.262, -0.04), (1.280, -0.03), (1.300, -0.02), (1.320, -0.01), (1.340, -0.02),
        (1.360, 0.00), (1.375, 0.02), (1.385, 0.00), (1.400, -0.02), (1.430, -0.02), (1.448, -0.02), (1.453, 0.30),
        (1.458, 0.76), (1.461, 0.65), (1.465, 0.10), (1.469, -0.25), (1.473, -0.30), (1.483, -0.23), (1.496, -0.15),
        (1.510, -0.09), (1.525, -0.04), (1.540, 0.00), (1.555, 0.03), (1.570, 0.04), (1.580, 0.02), (1.590, -0.02),
        (1.600, -0.04), (1.620, -0.03), (1.640, -0.02), (1.660, -0.02), (1.680, -0.01), (1.700, -0.01), (1.715, 0.02),
        (1.725, 0.00), (1.740, -0.02), (1.770, -0.02), (1.800, -0.02), (1.808, 0.00), (1.813, 0.40), (1.817, 0.80),
        (1.820, 0.70), (1.824, 0.10), (1.828, -0.22), (1.832, -0.27), (1.842, -0.20), (1.855, -0.12), (1.870, -0.05),
        (1.885, 0.00), (1.900, 0.04), (1.915, 0.07), (1.930, 0.08), (1.945, 0.06), (1.960, 0.03), (1.975, 0.00),
        (1.990, -0.05), (2.000, -0.07)]

ecg8 = [(0.000, 0.00), (0.010, 0.01), (0.020, -0.01), (0.030, 0.00), (0.040, -0.01), (0.050, 0.00), (0.055, 0.03),
        (0.059, 0.35), (0.063, 0.72), (0.066, 0.77), (0.069, 0.40), (0.072, -0.10), (0.075, -0.38), (0.078, -0.20),
        (0.082, -0.10), (0.090, -0.08), (0.100, -0.07), (0.120, -0.04), (0.140, -0.01), (0.160, 0.02), (0.180, 0.06),
        (0.200, 0.10), (0.210, 0.08), (0.220, 0.02), (0.228, -0.04), (0.232, -0.08), (0.235, -0.05), (0.240, -0.08),
        (0.250, -0.06), (0.270, -0.04), (0.290, -0.02), (0.310, -0.01), (0.330, 0.02), (0.350, 0.06), (0.360, 0.02),
        (0.380, -0.01), (0.400, 0.00), (0.415, -0.01), (0.420, 0.02), (0.424, 0.35), (0.428, 0.72), (0.431, 0.74),
        (0.434, 0.40), (0.437, -0.10), (0.440, -0.35), (0.443, -0.20), (0.447, -0.10), (0.455, -0.08), (0.470, -0.06),
        (0.490, -0.04), (0.510, -0.02), (0.530, 0.01), (0.550, 0.06), (0.565, 0.08), (0.575, 0.06), (0.585, 0.00),
        (0.595, -0.06), (0.610, -0.05), (0.630, -0.03), (0.650, -0.02), (0.670, 0.00), (0.685, 0.01), (0.695, 0.06),
        (0.705, 0.03), (0.720, 0.00), (0.740, 0.00), (0.755, -0.01), (0.765, 0.00), (0.770, 0.35), (0.774, 0.72),
        (0.777, 0.75), (0.780, 0.40), (0.783, -0.10), (0.786, -0.36), (0.789, -0.20), (0.793, -0.10), (0.800, -0.08),
        (0.815, -0.06), (0.835, -0.04), (0.855, -0.01), (0.875, 0.02), (0.895, 0.06), (0.910, 0.08), (0.920, 0.06),
        (0.930, 0.00), (0.940, -0.06), (0.955, -0.05), (0.975, -0.03), (0.995, -0.02), (1.015, 0.00), (1.030, 0.01),
        (1.040, 0.05), (1.050, 0.02), (1.070, 0.00), (1.090, -0.01), (1.105, 0.00), (1.110, 0.35), (1.114, 0.72),
        (1.117, 0.74), (1.120, 0.40), (1.123, -0.10), (1.126, -0.35), (1.129, -0.20), (1.133, -0.10), (1.140, -0.08),
        (1.155, -0.06), (1.175, -0.04), (1.195, -0.01), (1.215, 0.02), (1.235, 0.06), (1.250, 0.08), (1.260, 0.06),
        (1.270, 0.00), (1.280, -0.06), (1.295, -0.05), (1.315, -0.03), (1.335, -0.02), (1.355, 0.00), (1.370, 0.01),
        (1.380, 0.05), (1.390, 0.02), (1.410, 0.00), (1.430, -0.01), (1.445, 0.00), (1.450, 0.35), (1.454, 0.72),
        (1.457, 0.74), (1.460, 0.40), (1.463, -0.10), (1.466, -0.36), (1.469, -0.20), (1.473, -0.10), (1.480, -0.08),
        (1.495, -0.06), (1.515, -0.04), (1.535, -0.01), (1.555, 0.02), (1.575, 0.05), (1.590, 0.06), (1.600, 0.04),
        (1.610, 0.00), (1.620, -0.05), (1.640, -0.04), (1.660, -0.02), (1.680, -0.01), (1.700, 0.00), (1.720, 0.01),
        (1.730, 0.06), (1.740, 0.03), (1.760, 0.00), (1.780, -0.01), (1.800, 0.00), (1.806, 0.35), (1.810, 0.72),
        (1.813, 0.77), (1.816, 0.40), (1.819, -0.10), (1.822, -0.36), (1.825, -0.20), (1.829, -0.10), (1.836, -0.08),
        (1.850, -0.05), (1.870, -0.02), (1.890, 0.01), (1.910, 0.04), (1.930, 0.06), (1.945, 0.08), (1.955, 0.06),
        (1.965, 0.03), (1.975, 0.00), (1.985, -0.03), (1.995, -0.04), (2.000, -0.03)]

panels = [ecg1, ecg2, ecg3, ecg4, ecg5, ecg6, ecg7, ecg8]

# ---------------- layout ----------------
FRAME_H = 98
fig_heights = [140, 133, 133, 162, 133, 133, 133, 122]
border_tops = [9, 2, 2, 2, 2, 2, 2, 2]
TOTAL_H = sum(fig_heights)
LEFT_W = 491
PANEL_W = 1029
FONT = "Liberation Sans"

# left drawing
left = figure(width=LEFT_W, height=TOTAL_H, x_range=Range1d(0, LEFT_W),
              y_range=Range1d(TOTAL_H, 0),
              output_backend="svg", toolbar_location=None,
              x_axis_location=None, y_axis_location=None,
              min_border=0, outline_line_color=None)
left.grid.visible = False
arrow_src = ColumnDataSource(dict(x0=arrow_x0, y0=arrow_y0, x1=arrow_x1, y1=arrow_y1))
left.add_layout(Arrow(end=OpenHead(size=22, line_width=5, line_color="black"),
                      x_start="x0", y_start="y0", x_end="x1", y_end="y1",
                      source=arrow_src, line_width=5, line_color="black"))
left.scatter(dot_x, dot_y, size=29, marker="circle", color="black")

overrides = {tv: lab for tv, lab in zip(x_ticks, x_tick_labels)}
NO_LABELS = "for (const i of indices) { indices.unset(i) }\nreturn indices"


def tick_only_axis(ticks, loc):
    return LinearAxis(ticker=FixedTicker(ticks=ticks, minor_ticks=[]),
                      fixed_location=loc,
                      major_tick_in=10, major_tick_out=0, minor_tick_in=0, minor_tick_out=0,
                      axis_line_color=None, major_tick_line_color="black",
                      major_label_policy=CustomLabelingPolicy(code=NO_LABELS))


def make_panel(pts, h, bt):
    t = [a for a, b in pts]
    v = [b for a, b in pts]
    p = figure(width=PANEL_W, height=h, x_range=Range1d(0, 2), y_range=Range1d(-1, 1),
               output_backend="svg", toolbar_location=None,
               x_axis_location=None, y_axis_location=None,
               min_border_left=2, min_border_right=12, min_border_top=bt,
               min_border_bottom=h - bt - FRAME_H,
               outline_line_color="black", outline_line_width=1.5)
    p.grid.visible = False
    p.line(t, v, line_color="black", line_width=1)

    xb = LinearAxis(ticker=FixedTicker(ticks=x_ticks, minor_ticks=[]),
                    major_label_overrides=overrides,
                    major_tick_in=10, major_tick_out=0, minor_tick_in=0, minor_tick_out=0,
                    axis_line_color=None, major_tick_line_color="black",
                    major_label_text_font=FONT, major_label_text_font_size="15px",
                    major_label_text_color="black", major_label_standoff=4)
    p.add_layout(xb, "below")
    p.add_layout(tick_only_axis(x_ticks, 1), "above")
    p.add_layout(tick_only_axis([0], 0), "left")
    p.add_layout(tick_only_axis([0], 2), "right")
    return p


right = column(*[make_panel(pts, h, bt) for pts, h, bt in zip(panels, fig_heights, border_tops)],
               spacing=0)
layout = row(left, right, spacing=0)

open("out.html", "w").write(file_html(layout, INLINE))
